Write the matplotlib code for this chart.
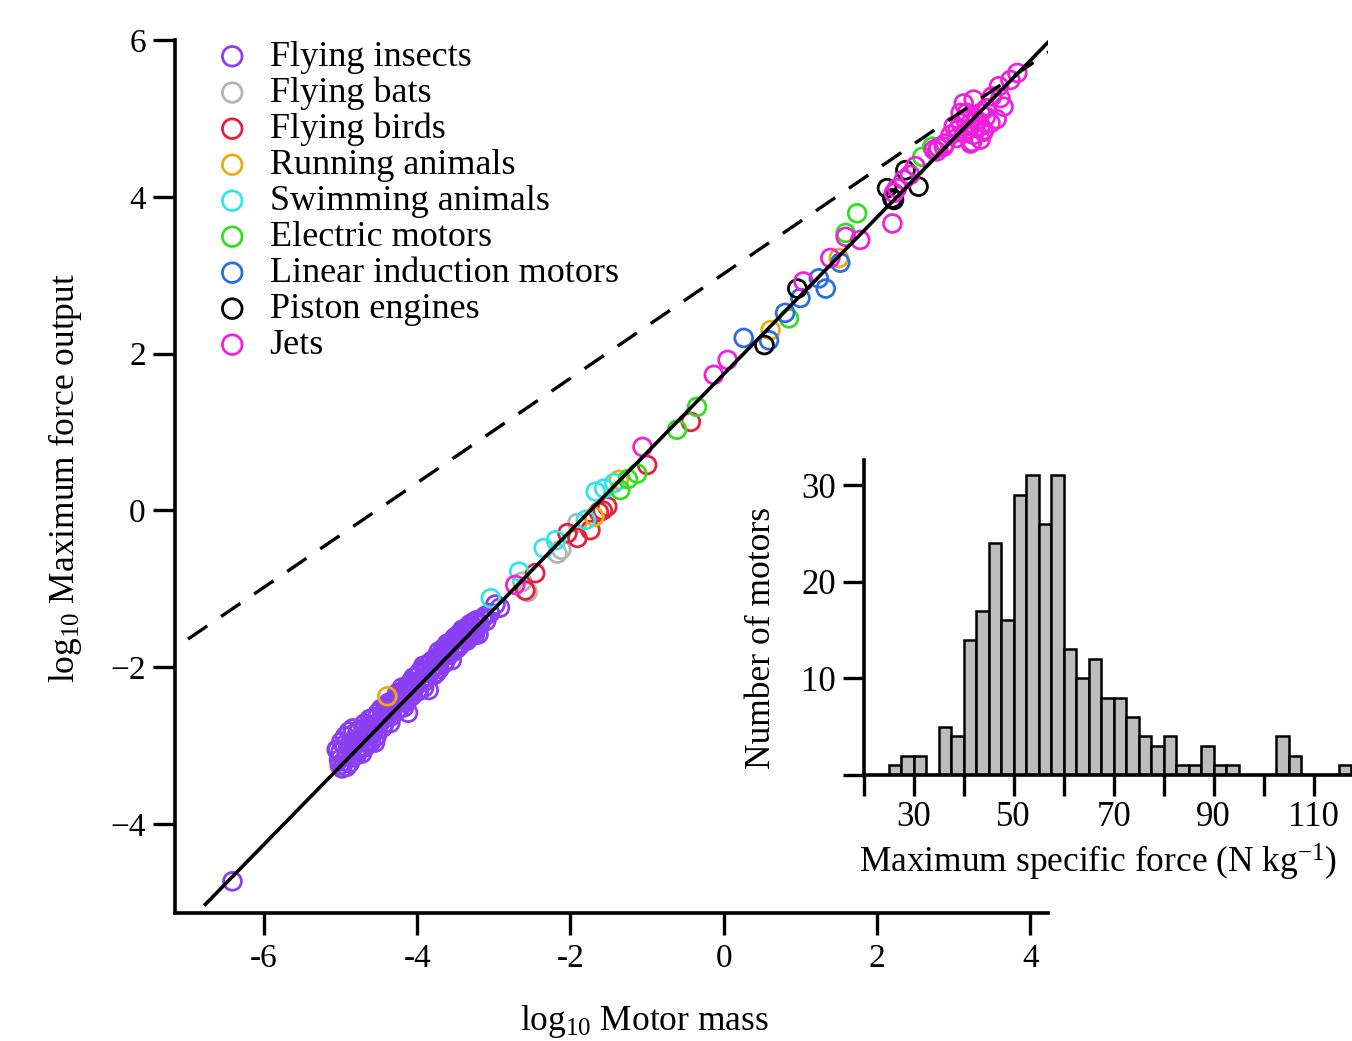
import matplotlib
matplotlib.use("Agg")
import matplotlib.pyplot as plt
import numpy as np

plt.rcParams['font.family'] = ['Liberation Serif', 'DejaVu Serif']
plt.rcParams['mathtext.fontset'] = 'custom'
plt.rcParams['mathtext.rm'] = 'Liberation Serif'
plt.rcParams['mathtext.it'] = 'Liberation Serif:italic'
plt.rcParams['mathtext.bf'] = 'Liberation Serif:bold'

# ---------------- data (log10 mass, log10 force) ----------------
insects_x = [-6.41,
    -5.02, -5.00, -4.98, -4.95, -4.93, -4.90, -4.88, -4.85, -4.83, -4.80,
    -4.78, -4.75, -4.72, -4.70, -4.67, -4.65, -4.62, -4.60, -4.57, -4.55,
    -4.52, -4.50, -4.47, -4.45, -4.42, -4.40, -4.37, -4.35, -4.32, -4.30,
    -4.27, -4.25, -4.22, -4.20, -4.17, -4.15, -4.12, -4.10, -4.07, -4.05,
    -4.02, -4.00, -3.97, -3.95, -3.92, -3.90, -3.87, -3.85, -3.82, -3.80,
    -3.77, -3.75, -3.72, -3.70, -3.67, -3.65, -3.62, -3.60, -3.57, -3.55,
    -3.52, -3.50, -3.47, -3.45, -3.42, -3.40, -3.37, -3.35, -3.32, -3.30,
    -3.27, -3.25, -3.22, -3.20, -3.15, -3.10, -3.05,
    -5.05, -4.92, -4.85, -4.75, -4.68, -4.60, -2.98, -2.92,
    -5.04, -5.01, -4.99, -4.96, -4.94, -4.91, -4.89, -4.86, -4.84, -4.81,
    -4.79, -4.76, -4.74, -4.71, -4.69, -4.66, -4.64, -4.61, -4.58, -4.56,
    -4.53, -4.51, -4.48, -4.46, -4.43, -4.41, -4.38, -4.36, -4.33, -4.31,
    -4.28, -4.26, -4.23, -4.21, -4.18, -4.16, -4.13, -4.11, -4.08, -4.06,
    -4.03, -4.01, -3.98, -3.96, -3.93, -3.91, -3.88, -3.86, -3.83, -3.81,
    -3.78, -3.76, -3.73, -3.71, -3.68, -3.66, -3.63, -3.61, -3.58, -3.56,
    -3.53, -3.51, -3.48, -3.46, -3.43, -3.41, -3.38, -3.36, -3.33, -3.31,
    -3.28, -3.26, -3.23, -3.18, -3.12]
insects_y = [-4.73,
    -3.18, -3.08, -3.29, -2.99, -3.14, -3.01, -3.22, -2.86, -2.99, -3.08,
    -2.84, -2.96, -3.10, -2.78, -2.85, -2.96, -2.66, -2.74, -2.83, -2.96,
    -2.63, -2.71, -2.53, -2.77, -2.58, -2.64, -2.45, -2.71, -2.50, -2.41,
    -2.56, -2.39, -2.43, -2.26, -2.51, -2.31, -2.58, -2.21, -2.30, -2.13,
    -2.20, -2.31, -2.09, -2.16, -1.98, -2.18, -2.03, -2.29, -1.93, -2.02,
    -1.91, -2.07, -1.80, -1.90, -1.81, -1.95, -1.73, -1.81, -1.73, -1.91,
    -1.64, -1.72, -1.63, -1.73, -1.56, -1.64, -1.55, -1.66, -1.48, -1.56,
    -1.48, -1.59, -1.40, -1.58, -1.38, -1.41, -1.31,
    -3.05, -3.27, -3.15, -3.05, -3.02, -2.95, -1.20, -1.24,
    -3.05, -3.25, -2.95, -3.20, -2.88, -3.10, -2.82, -3.05, -2.78, -2.95,
    -3.12, -2.80, -2.90, -3.02, -2.72, -2.95, -2.80, -2.88, -2.65, -2.78,
    -2.88, -2.58, -2.70, -2.62, -2.72, -2.50, -2.60, -2.52, -2.62, -2.45,
    -2.47, -2.33, -2.52, -2.36, -2.30, -2.45, -2.24, -2.40, -2.18, -2.36,
    -2.26, -2.12, -2.30, -2.05, -2.15, -2.26, -1.98, -2.12, -2.05, -1.92,
    -2.10, -1.88, -1.98, -2.02, -1.85, -1.76, -1.92, -1.70, -1.84, -1.68,
    -1.80, -1.62, -1.76, -1.58, -1.70, -1.52, -1.65, -1.50, -1.60, -1.45,
    -1.57, -1.42, -1.52, -1.45, -1.35]

bats_x = [-2.63, -2.56, -2.17, -2.12, -1.91]
bats_y = [-0.91, -1.04, -0.55, -0.50, -0.16]

birds_x = [-2.59, -2.46, -2.04, -1.91, -1.74, -1.63, -1.58, -1.52, -1.00, -0.43]
birds_y = [-1.02, -0.80, -0.29, -0.35, -0.25, -0.02, 0.00, 0.05, 0.58, 1.13]

running_x = [-4.39, -1.69, -1.37, 0.61, 1.50]
running_y = [-2.37, -0.08, 0.39, 2.30, 3.22]

swimming_x = [-3.04, -2.67, -2.35, -2.19, -1.80, -1.67, -1.56, -1.43]
swimming_y = [-1.12, -0.78, -0.48, -0.38, -0.12, 0.24, 0.28, 0.35]

electric_x = [-1.35, -1.25, -1.13, -0.61, -0.35, 0.85, 1.59, 1.74, 2.59, 2.72]
electric_y = [0.26, 0.40, 0.47, 1.03, 1.32, 2.45, 3.54, 3.79, 4.51, 4.64]

linear_x = [0.26, 0.59, 0.80, 1.00, 1.24, 1.33, 1.52]
linear_y = [2.20, 2.17, 2.52, 2.71, 2.96, 2.83, 3.16]

piston_x = [0.53, 0.96, 2.13, 2.20, 2.22, 2.37, 2.54]
piston_y = [2.11, 2.83, 4.11, 3.98, 3.96, 4.34, 4.13]

jets_x = [-2.72, -1.06, -0.13, 0.05, 1.04, 1.39, 1.59, 1.78, 2.20, 2.26, 2.22,
          2.35, 2.43, 2.50, 2.78, 2.87,
          3.83, 3.74, 3.59, 3.61, 3.50, 3.65, 3.43, 3.26, 3.13, 3.17, 3.35,
          3.48, 3.35, 3.22, 3.09, 3.00, 2.96, 3.13, 3.26, 3.39, 3.22, 3.35,
          2.89, 2.80, 2.74, 3.04, 3.56, 3.09, 3.24, 3.39,
          3.20, 3.30, 3.28, 3.15, 3.42, 3.05]
jets_y = [-0.95, 0.81, 1.73, 1.92, 2.92, 3.22, 3.49, 3.45, 3.66, 4.11, 4.05,
          4.22, 4.28, 4.39, 4.58, 4.64,
          5.58, 5.49, 5.41, 5.26, 5.28, 5.15, 5.13, 5.24, 5.19, 5.07, 5.07,
          4.94, 4.90, 4.94, 4.94, 4.90, 4.79, 4.81, 4.79, 4.83, 4.68, 4.73,
          4.68, 4.63, 4.60, 4.75, 4.99, 5.07, 4.70, 4.85,
          4.86, 4.98, 4.88, 4.99, 5.02, 4.85]

groups = [
    ("Flying insects", insects_x, insects_y, "#8b3ff2"),
    ("Flying bats", bats_x, bats_y, "#b4b4b4"),
    ("Flying birds", birds_x, birds_y, "#e8203c"),
    ("Running animals", running_x, running_y, "#eeaa11"),
    ("Swimming animals", swimming_x, swimming_y, "#33e6e6"),
    ("Electric motors", electric_x, electric_y, "#33dd22"),
    ("Linear induction motors", linear_x, linear_y, "#2a6ee0"),
    ("Piston engines", piston_x, piston_y, "#000000"),
    ("Jets", jets_x, jets_y, "#ee22dd"),
]

fit_x = [-6.78, 4.26]
fit_slope, fit_icpt = 1.0, 1.74
ref_x = [-6.99, 4.26]
ref_slope, ref_icpt = 2.0 / 3.0, 3.02

# histogram of maximum specific force
bin_left = [25, 27.5, 30, 32.5, 35, 37.5, 40, 42.5, 45, 47.5, 50, 52.5, 55,
            57.5, 60, 62.5, 65, 67.5, 70, 72.5, 75, 77.5, 80, 82.5, 85, 87.5,
            90, 92.5, 95, 97.5, 100, 102.5, 105, 107.5, 110, 112.5, 115]
bin_count = [1, 2, 2, 0, 5, 4, 14, 17, 24, 16, 29, 31, 26, 31, 13, 10, 12,
             8, 8, 6, 4, 3, 4, 1, 1, 3, 1, 1, 0, 0, 0, 4, 2, 0, 0, 0, 1]
bin_width = 2.5

W, H = 1352, 1041
fig = plt.figure(figsize=(W / 100, H / 100), dpi=100)

# ---------------- main axes ----------------
ax = fig.add_axes([175 / W, 1 - 912.7 / H, (1048 - 175) / W, (912.7 - 40) / H])
ax.set_xlim(-7.16, 4.23)
ax.set_ylim(-5.13, 6.0)
for s in ("top", "right"):
    ax.spines[s].set_visible(False)
for s in ("left", "bottom"):
    ax.spines[s].set_linewidth(2.6)

for label, xs, ys, col in groups:
    ax.scatter(xs, ys, s=165, facecolors="none", edgecolors=col,
               linewidths=2.0, label=label, zorder=2)

fx = np.array(fit_x)
ax.plot(fx, fit_slope * fx + fit_icpt, color="black", lw=2.6, zorder=3,
        solid_capstyle="butt")
rx = np.array(ref_x)
ax.plot(rx, ref_slope * rx + ref_icpt, color="black", lw=2.4, zorder=3,
        dashes=(7, 5))

ax.set_xticks([-6, -4, -2, 0, 2, 4])
ax.set_xticklabels(["-6", "-4", "-2", "0", "2", "4"])
ax.set_yticks([-4, -2, 0, 2, 4, 6])
ax.set_yticklabels(["\u22124", "\u22122", "0", "2", "4", "6"])
ax.tick_params(direction="out", length=16, width=2.4, labelsize=24)
ax.tick_params(axis="x", pad=6)
ax.tick_params(axis="y", pad=5)

fig.text(65 / W, 1 - 478 / H, r"log$_{10}$ Maximum force output",
         rotation=90, ha="center", va="center", fontsize=25.5)
fig.text(644 / W, 1 - 1022 / H, r"log$_{10}$ Motor mass",
         ha="center", va="center", fontsize=25.5)

leg = ax.legend(loc="upper left", bbox_to_anchor=(218.7 / W, 1 - 40.5 / H),
                bbox_transform=fig.transFigure, frameon=False, fontsize=26,
                borderpad=0, borderaxespad=0, handlelength=0.75,
                handletextpad=0.66, labelspacing=0.075, scatterpoints=1,
                markerscale=1.1)

# ---------------- inset histogram ----------------
ins = fig.add_axes([863.7 / W, 1 - 775 / H, (W - 863.7) / W, (775 - 460) / H])
ins.patch.set_alpha(0)
ins.bar(bin_left, bin_count, width=bin_width, align="edge",
        facecolor="#bdbdbd", edgecolor="black", linewidth=1.8, zorder=2)
ins.set_xlim(20, 20 + (W - 863.7) / 5.0)
ins.set_ylim(0, 32.6)
for s in ("top", "right"):
    ins.spines[s].set_visible(False)
for s in ("left", "bottom"):
    ins.spines[s].set_linewidth(2.6)
ins.spines["bottom"].set_zorder(3)
ins.set_xticks(list(range(20, 120, 10)))
ins.set_xticklabels(["" if v % 20 == 0 else str(v) for v in range(20, 120, 10)])
ins.set_yticks([0, 10, 20, 30])
ins.set_yticklabels(["", "10", "20", "30"])
ins.tick_params(direction="out", length=15, width=2.4, labelsize=25)
ins.tick_params(axis="x", pad=4)
ins.tick_params(axis="y", pad=5)
ins.set_xlabel(r"Maximum specific force (N kg$^{-1}$)", fontsize=25.5)
ins.set_ylabel("Number of motors", fontsize=25.5)
ins.xaxis.set_label_coords((1098 - 863.7) / (W - 863.7), (775 - 842) / 315)
ins.yaxis.set_label_coords((778 - 863.7) / (W - 863.7), (775 - 638) / 315)

fig.savefig("out.png", dpi=100)
